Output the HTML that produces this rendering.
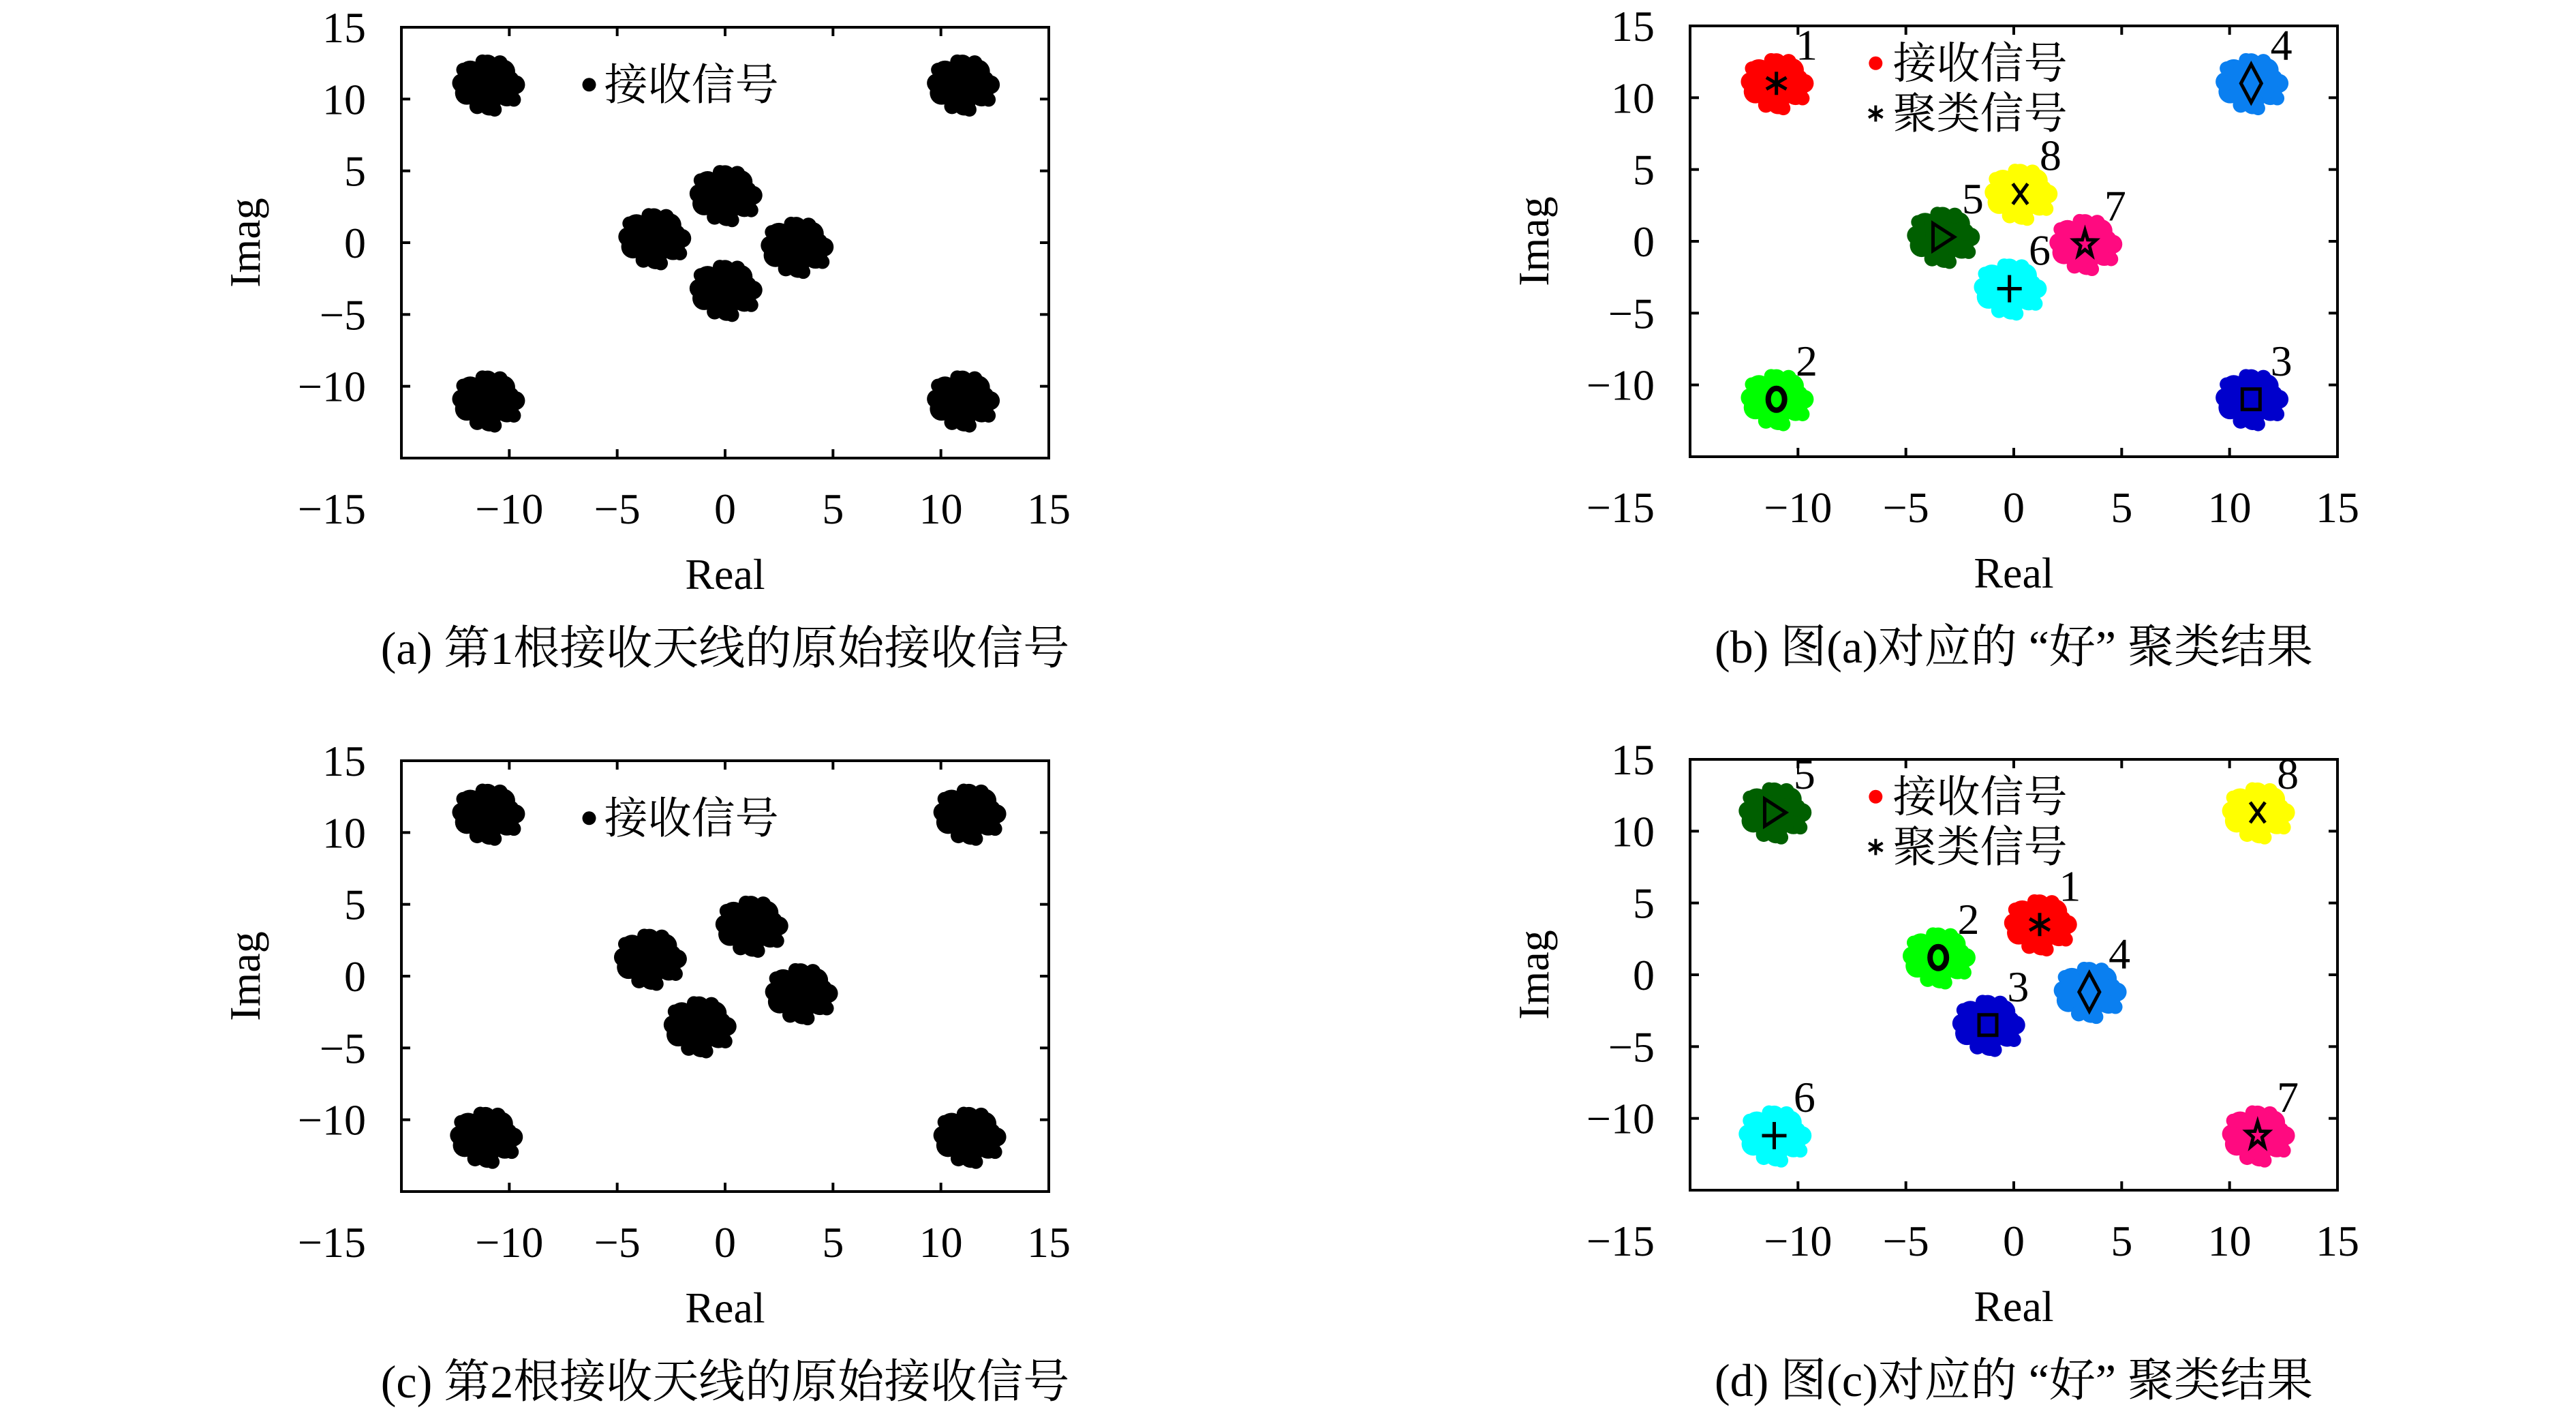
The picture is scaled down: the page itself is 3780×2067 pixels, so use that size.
<!DOCTYPE html>
<html><head><meta charset="utf-8">
<style>
html,body{margin:0;padding:0;background:#fff;}
svg{display:block;}
text{font-family:"Liberation Serif","Noto Serif CJK SC","Noto Sans CJK SC",serif;fill:#000;}
</style></head>
<body>
<svg id="fig" width="3780" height="2067" viewBox="0 0 3780 2067" xmlns="http://www.w3.org/2000/svg"></svg>
<script>
// ---- data ----
const xTicks = [-10,-5,0,5,10,15];
const yTicks = [-10,-5,0,5,10,15];
const centersA = [[-11,11],[11,11],[-11,-11],[11,-11],[0,3.3],[-3.3,0.3],[3.3,-0.3],[0,-3.3]];
const centersC = [[-11,11.3],[11.3,11.3],[-11.1,-11.2],[11.3,-11.2],[1.2,3.5],[-3.5,1.2],[3.5,-1.2],[-1.2,-3.5]];
const clusterIdsB = [1,2,3,4,5,6,7,8];
const centersB = [[-11,11],[-11,-11],[11,-11],[11,11],[-3.3,0.3],[-0.2,-3.3],[3.3,-0.2],[0.3,3.3]];
const centersD = [[1.2,3.5],[-3.5,1.2],[-1.2,-3.5],[3.5,-1.2],[-11.1,11.3],[-11.1,-11.2],[11.3,-11.2],[11.3,11.3]];
const clusterColors = ['#ff0000','#00ff00','#0000cc','#0a7ff0','#005f00','#00ffff','#ff0a80','#ffff00'];
const clusterMarkers = ['asterisk','circle','square','diamond','triangle','plus','star','x'];
const captions = ['(a) 第1根接收天线的原始接收信号','(b) 图(a)对应的 “好” 聚类结果','(c) 第2根接收天线的原始接收信号','(d) 图(c)对应的 “好” 聚类结果'];

const NS='http://www.w3.org/2000/svg';
const svg=document.getElementById('fig');
function el(tag,attrs,parent){const e=document.createElementNS(NS,tag);for(const k in attrs)e.setAttribute(k,attrs[k]);(parent||svg).appendChild(e);return e;}
const W=950,H=632;
const blob=[[0,0,30],[-20,-14,16],[18,-16,15],[-24,10,15],[22,12,15],[0,-24,13],[2,24,14],[-30,-2,12],[32,0,12],[-12,26,10],[14,-26,10],[26,-6,11],[-6,-28,9],[8,30,9],[-28,-18,9],[30,18,9]];
const BS=1.28;

function panel(ox,oy,centers,clustered,capIdx){
  const g=el('g',{});
  
  
  const sx=v=>ox+(v+15)/30*W, sy=v=>oy+(15-v)/30*H;
  centers.forEach((c,i)=>{
    const cg=el('g',{fill:clustered?clusterColors[i]:'#000'},g);
    
    
    const cx=sx(c[0]),cy=sy(c[1]);
    blob.forEach(b=>el('circle',{cx:cx+b[0]*BS,cy:cy+b[1]*0.95*BS,r:b[2]*1.15},cg));
    if(clustered){
      const m=el('g',{stroke:'#000','stroke-width':5,fill:'none'},g);
      
      
      drawMarker(m,clusterMarkers[i],cx,cy);
      const t=el('text',{x:sx(c[0]+1.4),y:sy(c[1]+2.7)+22,'font-size':64,'text-anchor':'middle'},g);
      t.textContent=String(i+1);
      
      
    }
  });
  const box=el('rect',{x:ox,y:oy,width:W,height:H,fill:'none',stroke:'#000','stroke-width':4},g);
  
  
  xTicks.forEach(v=>{
    const x=sx(v);
    el('line',{x1:x,y1:oy+H,x2:x,y2:oy+H-13,stroke:'#000','stroke-width':4},g);
    el('line',{x1:x,y1:oy,x2:x,y2:oy+13,stroke:'#000','stroke-width':4},g);
    const t=el('text',{x:x,y:oy+H+96,'font-size':64,'text-anchor':'middle'},g);
    t.textContent=(v<0?'−':'')+Math.abs(v);
    
    
  });
  yTicks.forEach(v=>{
    const y=sy(v);
    el('line',{x1:ox,y1:y,x2:ox+13,y2:y,stroke:'#000','stroke-width':4},g);
    el('line',{x1:ox+W,y1:y,x2:ox+W-13,y2:y,stroke:'#000','stroke-width':4},g);
    const t=el('text',{x:ox-52,y:y+22,'font-size':64,'text-anchor':'end'},g);
    t.textContent=(v<0?'−':'')+Math.abs(v);
    
    
  });
  const m15=el('text',{x:ox-52,y:oy+H+96,'font-size':64,'text-anchor':'end'},g);
  m15.textContent='−15';
  
  
  const xl=el('text',{x:ox+W/2,y:oy+H+192,'font-size':64,'text-anchor':'middle'},g);
  xl.textContent='Real';
  
  
  const yl=el('text',{x:0,y:0,'font-size':64,'text-anchor':'middle',transform:`translate(${ox-208},${oy+H/2}) rotate(-90)`},g);
  yl.textContent='Imag';
  
  
  const cap=el('text',{x:ox+W/2,y:oy+H+302,'font-size':68,'text-anchor':'middle'},g);
  cap.textContent=captions[capIdx];
  
  
  const lg=el('g',{},g);
  
  
  if(!clustered){
    el('circle',{cx:sx(-6.3),cy:sy(11),r:10,fill:'#000'},lg);
    const t=el('text',{x:sx(-5.6),y:sy(11)+22,'font-size':64},lg);
    t.textContent='接收信号';
    
    
  } else {
    el('circle',{cx:sx(-6.4),cy:sy(12.4),r:10,fill:'#ff0000'},lg);
    const t=el('text',{x:sx(-5.6),y:sy(12.4)+22,'font-size':64},lg);
    t.textContent='接收信号';
    
    
    const a=el('g',{stroke:'#000','stroke-width':4},lg);
    drawMarker(a,'asterisk',sx(-6.4),sy(8.9),0.7);
    const t2=el('text',{x:sx(-5.6),y:sy(8.9)+22,'font-size':64},lg);
    t2.textContent='聚类信号';
    
    
  }
}
function drawMarker(g,type,cx,cy,s){
  s=s||1;const r=17*s;
  if(type==='asterisk'){for(let k=0;k<3;k++){const a=Math.PI/2+k*Math.PI/3;el('line',{x1:cx+r*Math.cos(a),y1:cy+r*Math.sin(a),x2:cx-r*Math.cos(a),y2:cy-r*Math.sin(a)},g);}}
  else if(type==='circle')el('ellipse',{cx,cy,rx:12,ry:16,'stroke-width':8},g);
  else if(type==='square')el('rect',{x:cx-13,y:cy-15,width:26,height:30},g);
  else if(type==='diamond')el('polygon',{points:`${cx},${cy-28} ${cx+15},${cy} ${cx},${cy+28} ${cx-15},${cy}`},g);
  else if(type==='triangle')el('polygon',{points:`${cx-14},${cy-20} ${cx+17},${cy} ${cx-14},${cy+20}`},g);
  else if(type==='plus'){el('line',{x1:cx-18,y1:cy,x2:cx+18,y2:cy},g);el('line',{x1:cx,y1:cy-20,x2:cx,y2:cy+20},g);}
  else if(type==='x'){el('line',{x1:cx-11,y1:cy-15,x2:cx+11,y2:cy+15},g);el('line',{x1:cx+11,y1:cy-15,x2:cx-11,y2:cy+15},g);}
  else if(type==='star'){let p=[];for(let k=0;k<10;k++){const a=-Math.PI/2+k*Math.PI/5,rr=k%2?8:20;p.push((cx+rr*Math.cos(a)*0.85)+','+(cy+rr*Math.sin(a)));}el('polygon',{points:p.join(' ')},g);}
}
panel(589,40,centersA,false,0);
panel(2480,38,centersB,true,1);
panel(589,1116,centersC,false,2);
panel(2480,1114,centersD,true,3);
</script>
</body></html>
